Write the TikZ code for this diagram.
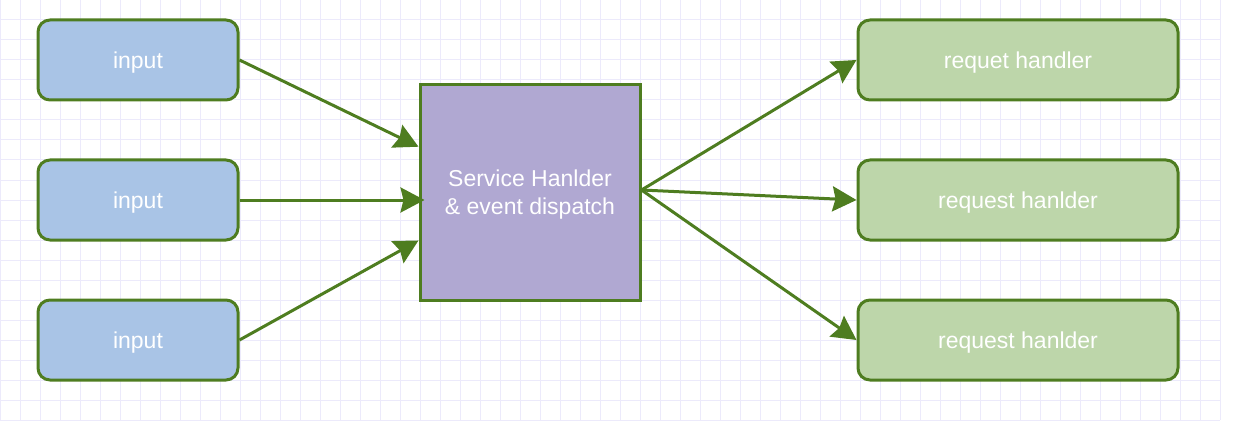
\documentclass[tikz,border=0pt]{standalone}
\usepackage{fontspec}
\setmainfont{Liberation Sans}
\usepackage{tikz}
\usetikzlibrary{arrows.meta,calc,positioning}
\definecolor{gridline}{HTML}{ECEAFB}
\definecolor{edgegreen}{HTML}{4E7D20}
\definecolor{inblue}{HTML}{A9C4E6}
\definecolor{svcpurple}{HTML}{B0A8D2}
\definecolor{handgreen}{HTML}{BDD6AA}
\tikzset{
  boxtext/.style={text=white, font=\fontsize{23}{28}\selectfont, align=center,
    text depth=0pt},
  inbox/.style={boxtext, draw=edgegreen, line width=3pt, fill=inblue,
    rounded corners=12pt, minimum width=200pt, minimum height=80pt},
  handbox/.style={boxtext, draw=edgegreen, line width=3pt, fill=handgreen,
    rounded corners=12pt, minimum width=320pt, minimum height=80pt},
  svcbox/.style={boxtext, draw=edgegreen, line width=3pt, fill=svcpurple,
    minimum width=220pt, minimum height=215pt},
  flow/.style={draw=edgegreen, line width=3pt,
    -{Stealth[length=24pt,width=25pt,inset=3pt]}}
}
\begin{document}
\begin{tikzpicture}[x=1pt,y=-1pt]
            \useasboundingbox (0,0) rectangle (1238,422);
            % Background grid
            \foreach \gx in {0,20,...,1220}
              \draw[gridline, line width=1pt] (\gx,0) -- (\gx,420);
            \foreach \gy in {0,20,...,420}
              \draw[gridline, line width=1pt] (0,\gy) -- (1220,\gy);
            % Inputs
            \node[inbox] (in1) at (138,60) {input};
            \node[inbox] (in2) at (138,200) {input};
            \node[inbox] (in3) at (138,340) {input};
            % Dispatcher
            \node[svcbox] (svc) at (530,192.5) {Service Hanlder\\\& event dispatch};
            % Handlers
            \node[handbox] (hd1) at (1018,60) {requet handler};
            \node[handbox] (hd2) at (1018,200) {request hanlder};
            \node[handbox] (hd3) at (1018,340) {request hanlder};
            % Connection points on the dispatcher
            \coordinate (svcin1) at ($(svc.north west)!0.29!(svc.south west)$);
            \coordinate (svcin2) at ($(svc.west)+(6,7.5)$);
            \coordinate (svcin3) at ($(svc.north west)!0.72!(svc.south west)$);
            \coordinate (svcout) at ($(svc.east)+(0,-2.5)$);
            % Connectors
            \draw[flow] (in1.east) -- (svcin1);
            \draw[flow] (in2.east) -- (svcin2);
            \draw[flow] (in3.east) -- (svcin3);
            \draw[flow] (svcout) -- (hd1.west);
            \draw[flow] (svcout) -- (hd2.west);
            \draw[flow] (svcout) -- (hd3.west);
          \end{tikzpicture}
\end{document}
